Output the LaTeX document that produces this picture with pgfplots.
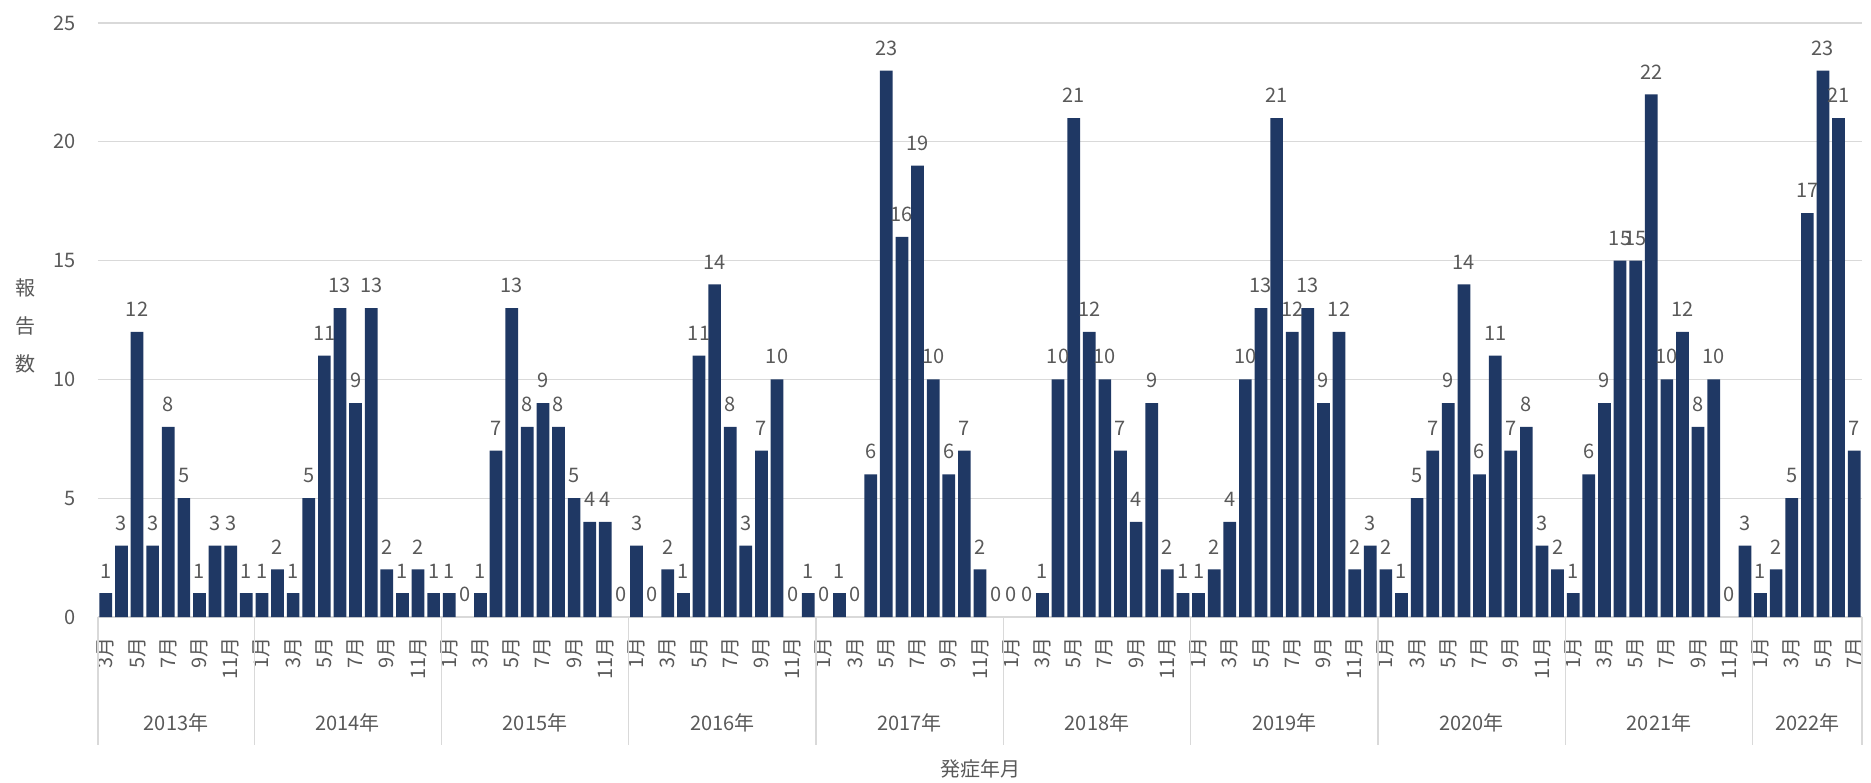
\documentclass[border=0pt]{standalone}
\usepackage{fontspec}
\setmainfont{Noto Sans CJK JP}
\usepackage{pgfplots}
\pgfplotsset{compat=1.18}
\usepackage{pgfplotstable}

\definecolor{barblue}{HTML}{1F3864}
\definecolor{txtgray}{HTML}{595959}
\definecolor{gridgray}{HTML}{D9D9D9}
\newcommand\lab{\fontsize{20}{24}\selectfont}

% monthly reports, 2013-03 .. 2022-07
\pgfplotstableread{
ym      n
2013-03 1
2013-04 3
2013-05 12
2013-06 3
2013-07 8
2013-08 5
2013-09 1
2013-10 3
2013-11 3
2013-12 1
2014-01 1
2014-02 2
2014-03 1
2014-04 5
2014-05 11
2014-06 13
2014-07 9
2014-08 13
2014-09 2
2014-10 1
2014-11 2
2014-12 1
2015-01 1
2015-02 0
2015-03 1
2015-04 7
2015-05 13
2015-06 8
2015-07 9
2015-08 8
2015-09 5
2015-10 4
2015-11 4
2015-12 0
2016-01 3
2016-02 0
2016-03 2
2016-04 1
2016-05 11
2016-06 14
2016-07 8
2016-08 3
2016-09 7
2016-10 10
2016-11 0
2016-12 1
2017-01 0
2017-02 1
2017-03 0
2017-04 6
2017-05 23
2017-06 16
2017-07 19
2017-08 10
2017-09 6
2017-10 7
2017-11 2
2017-12 0
2018-01 0
2018-02 0
2018-03 1
2018-04 10
2018-05 21
2018-06 12
2018-07 10
2018-08 7
2018-09 4
2018-10 9
2018-11 2
2018-12 1
2019-01 1
2019-02 2
2019-03 4
2019-04 10
2019-05 13
2019-06 21
2019-07 12
2019-08 13
2019-09 9
2019-10 12
2019-11 2
2019-12 3
2020-01 2
2020-02 1
2020-03 5
2020-04 7
2020-05 9
2020-06 14
2020-07 6
2020-08 11
2020-09 7
2020-10 8
2020-11 3
2020-12 2
2021-01 1
2021-02 6
2021-03 9
2021-04 15
2021-05 15
2021-06 22
2021-07 10
2021-08 12
2021-09 8
2021-10 10
2021-11 0
2021-12 3
2022-01 1
2022-02 2
2022-03 5
2022-04 17
2022-05 23
2022-06 21
2022-07 7
}\reports

\begin{document}
\begin{tikzpicture}
\useasboundingbox (-98pt,-165pt) rectangle (1773pt,617pt);
\begin{axis}[
    scale only axis,
    width=1764pt, height=594pt,
    xmin=-0.5, xmax=112.5,
    ymin=0, ymax=25,
    ybar, bar width=12.7pt, bar shift=0pt,
    clip=false,
    axis line style={draw=none},
    major tick length=0pt,
    ymajorgrids,
    grid style={gridgray, line width=1.2pt},
    ytick={0,5,...,25},
    /pgf/number format/assume math mode=true,
    yticklabel style={font=\lab, text=txtgray, inner sep=0pt, xshift=-22pt},
    xtick={0,2,...,112},
    xticklabels={3月,5月,7月,9月,11月,
      1月,3月,5月,7月,9月,11月,
      1月,3月,5月,7月,9月,11月,
      1月,3月,5月,7月,9月,11月,
      1月,3月,5月,7月,9月,11月,
      1月,3月,5月,7月,9月,11月,
      1月,3月,5月,7月,9月,11月,
      1月,3月,5月,7月,9月,11月,
      1月,3月,5月,7月,9月,11月,
      1月,3月,5月,7月},
    xticklabel style={font=\lab, text=txtgray, inner sep=0pt,
      yshift=-20pt, rotate=90, anchor=east},
    xlabel={発症年月},
    xlabel style={font=\lab, text=txtgray, at={(rel axis cs:0.5,0)},
      anchor=center, yshift=-152pt},
  ]
  % bars (empty months left out so no hairline is drawn)
  \addplot[fill=barblue, draw=none, unbounded coords=discard,
    y filter/.expression={y==0 ? nan : y}]
    table[x expr=\coordindex, y=n] {\reports};
  % value labels for every month, zeros included
  \addplot[draw=none, fill=none, forget plot, nodes near coords,
    nodes near coords style={font=\lab, text=txtgray, inner sep=0pt,
      anchor=south, yshift=15pt}]
    table[x expr=\coordindex, y=n] {\reports};

  % year dividers below the month labels
  \pgfplotsinvokeforeach{-0.5,9.5,21.5,33.5,45.5,57.5,69.5,81.5,93.5,105.5,112.5}{
    \draw[gridgray, line width=1.2pt] (axis cs:#1,0) -- ([yshift=-128pt]axis cs:#1,0);
  }
  \node[font=\lab, text=txtgray] at ([yshift=-106pt]axis cs:4.5,0) {2013年};
  \node[font=\lab, text=txtgray] at ([yshift=-106pt]axis cs:15.5,0) {2014年};
  \node[font=\lab, text=txtgray] at ([yshift=-106pt]axis cs:27.5,0) {2015年};
  \node[font=\lab, text=txtgray] at ([yshift=-106pt]axis cs:39.5,0) {2016年};
  \node[font=\lab, text=txtgray] at ([yshift=-106pt]axis cs:51.5,0) {2017年};
  \node[font=\lab, text=txtgray] at ([yshift=-106pt]axis cs:63.5,0) {2018年};
  \node[font=\lab, text=txtgray] at ([yshift=-106pt]axis cs:75.5,0) {2019年};
  \node[font=\lab, text=txtgray] at ([yshift=-106pt]axis cs:87.5,0) {2020年};
  \node[font=\lab, text=txtgray] at ([yshift=-106pt]axis cs:99.5,0) {2021年};
  \node[font=\lab, text=txtgray] at ([yshift=-106pt]axis cs:109,0) {2022年};

  % vertical axis title, one character per line
  \node[font=\fontsize{20}{38}\selectfont, text=txtgray, align=center]
    at ([xshift=-72pt]rel axis cs:0,0.49) {報\\告\\数};
\end{axis}
\end{tikzpicture}
\end{document}
